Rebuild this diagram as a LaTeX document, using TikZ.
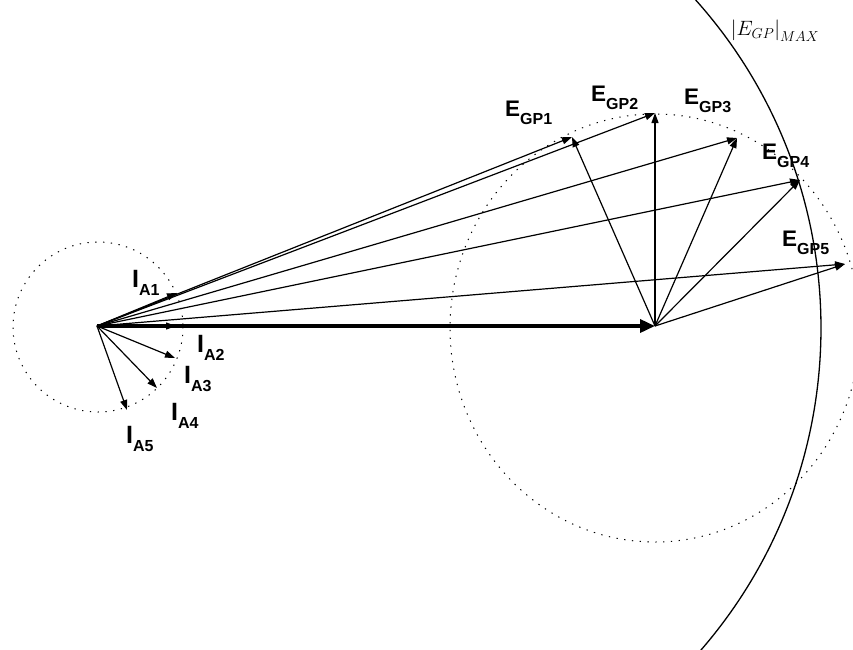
\documentclass[tikz,border=0pt]{standalone}
\usepackage{amsmath}
\usepackage{fontspec}
\setmainfont{Liberation Sans}
\usepackage{tikz}
\usetikzlibrary{arrows.meta}

\newcommand{\lowsub}[1]{\raisebox{-8pt}{\fontsize{16}{16}\selectfont #1}}

\tikzset{
  vec/.style={line width=1.2pt, -{Triangle[length=10pt,width=7pt]}},
  bigvec/.style={line width=3.5pt, -{Triangle[length=15pt,width=13pt]}},
  locus/.style={line width=1pt, dash pattern=on 1.3pt off 6.5pt},
  elabel/.style={anchor=base west, inner sep=0pt, font=\fontsize{22.5}{22.5}\selectfont\bfseries},
  ilabel/.style={anchor=base west, inner sep=0pt, font=\fontsize{25}{25}\selectfont\bfseries}
}

\begin{document}
\begin{tikzpicture}[x=1pt, y=-1pt]
					\useasboundingbox (0,0) rectangle (853,649);

					% Ursprung und Klemmenspannung
					\coordinate (O) at (97,326);
					\coordinate (V) at (655,326);

					% Stromzeiger I_A1 ... I_A5
					\coordinate (I1) at (177,293);
					\coordinate (I2) at (176,326);
					\coordinate (I3) at (175,358);
					\coordinate (I4) at (157,388);
					\coordinate (I5) at (127,410);

					% Polradspannungen E_GP1 ... E_GP5
					\coordinate (E1) at (572,137);
					\coordinate (E2) at (655,113);
					\coordinate (E3) at (737,138);
					\coordinate (E4) at (800,180);
					\coordinate (E5) at (845,264);

					% Ortskurven
					\draw[locus] (98,327) circle (85);
					\draw[locus] (655,328) ellipse [x radius=205, y radius=214];
					\draw[line width=1.3pt] (329,328) ++(-42:492) arc[start angle=-42, end angle=42, radius=492];

					\draw[vec] (O) -- (I1);
					\draw[vec] (O) -- (I3);
					\draw[vec] (O) -- (I4);
					\draw[vec] (O) -- (I5);

					\draw[vec] (O) -- (E1);
					\draw[vec] (O) -- (E2);
					\draw[vec] (O) -- (E3);
					\draw[vec] (O) -- (E4);
					\draw[vec] (O) -- (E5);

					\draw[bigvec] (O) -- (V);
					\draw[vec] (O) -- (I2);

					\draw[vec] (V) -- (E1);
					\draw[vec] (V) -- (E2);
					\draw[vec] (V) -- (E3);
					\draw[vec] (V) -- (E4);
					\draw[vec] (V) -- (E5);

					\node[ilabel] (lI1) at (132,287) {I\lowsub{A1}};
					\node[ilabel] (lI2) at (197,352) {I\lowsub{A2}};
					\node[ilabel] (lI3) at (184,383) {I\lowsub{A3}};
					\node[ilabel] (lI4) at (171,420) {I\lowsub{A4}};
					\node[ilabel] (lI5) at (126,443) {I\lowsub{A5}};

					\node[elabel] (lE1) at (505,116) {E\lowsub{GP1}};
					\node[elabel] (lE2) at (591,101) {E\lowsub{GP2}};
					\node[elabel] (lE3) at (684,104) {E\lowsub{GP3}};
					\node[elabel] (lE4) at (762,159) {E\lowsub{GP4}};
					\node[elabel] (lE5) at (782,246) {E\lowsub{GP5}};

					\node[font=\fontsize{21}{21}\selectfont] (lmax) at (775,31) {$\left|E_{GP}\right|_{MAX}$};
\end{tikzpicture}
\end{document}
